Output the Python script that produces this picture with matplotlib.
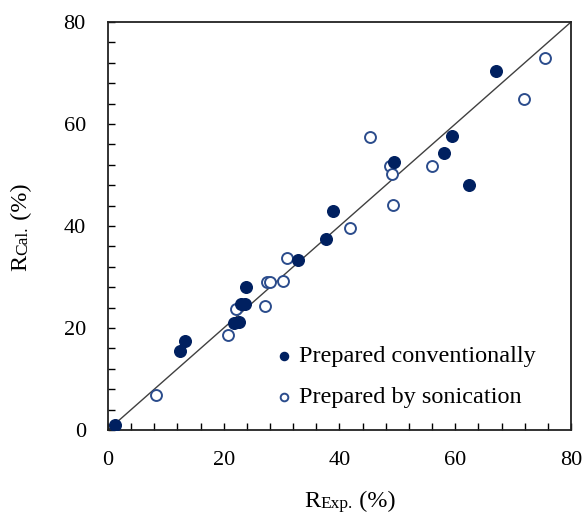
import matplotlib.pyplot as plt
from matplotlib.ticker import MultipleLocator

# conventionally prepared (filled)
conv_exp = [1.2, 12.4, 13.3, 21.8, 22.6, 23.0, 23.7, 23.8, 32.8, 37.7, 38.9,
            49.4, 58.0, 59.4, 62.4, 67.1]
conv_cal = [1.0, 15.4, 17.4, 20.9, 21.1, 24.7, 24.7, 28.1, 33.3, 37.5, 42.9,
            52.5, 54.3, 57.7, 48.0, 70.4]

# prepared by sonication (open)
son_exp = [8.3, 20.7, 22.2, 27.2, 27.5, 28.0, 30.2, 31.0, 41.9, 45.3, 48.8,
           49.1, 49.3, 56.0, 71.8, 75.5]
son_cal = [6.9, 18.6, 23.7, 24.3, 29.0, 29.0, 29.3, 33.7, 39.7, 57.5, 51.8,
           50.2, 44.2, 51.8, 65.0, 72.9]


def main():
    plt.rcParams['font.family'] = ['Liberation Serif', 'DejaVu Serif']
    fig = plt.figure(figsize=(5.86, 5.17), dpi=100)
    ax = fig.add_axes([0.1843, 0.1683, 0.7901, 0.7891])

    ax.plot([0, 80], [0, 80], color='#404040', lw=1, zorder=1)
    ax.scatter(conv_exp, conv_cal, s=70, color='#002060', edgecolor='#002060',
               lw=1, zorder=3, label='Prepared conventionally')
    ax.scatter(son_exp, son_cal, s=62, facecolor='white', edgecolor='#2B4C8C',
               lw=1.4, zorder=2, label='Prepared by sonication')

    ax.set_xlim(0, 80)
    ax.set_ylim(0, 80)
    ax.xaxis.set_major_locator(MultipleLocator(20))
    ax.yaxis.set_major_locator(MultipleLocator(20))
    ax.xaxis.set_minor_locator(MultipleLocator(4))
    ax.yaxis.set_minor_locator(MultipleLocator(4))
    ax.tick_params(which='both', direction='in', length=5, width=1,
                   labelsize=16, colors='black')
    ax.tick_params(axis='x', pad=15)
    ax.tick_params(axis='y', pad=16)
    for s in ax.spines.values():
        s.set_linewidth(1.3)
        s.set_color('#222222')

    # x label: R + small "Exp." + (%)
    t1 = ax.text(0.425, -0.2, 'R', transform=ax.transAxes, fontsize=17.5,
                 ha='left', va='bottom')
    t2 = ax.annotate('Exp.', xy=(1, 0), xycoords=t1, fontsize=12.5,
                     ha='left', va='bottom')
    ax.annotate(' (%)', xy=(1, 0), xycoords=t2, fontsize=17.5,
                ha='left', va='bottom')

    # y label, rotated
    y1 = ax.text(-0.165, 0.39, 'R', transform=ax.transAxes, fontsize=17.5,
                 rotation=90, ha='right', va='bottom')
    y2 = ax.annotate('Cal.', xy=(1, 1), xycoords=y1, fontsize=12.5,
                     rotation=90, ha='right', va='bottom')
    ax.annotate(' (%)', xy=(1, 1), xycoords=y2, fontsize=17.5,
                rotation=90, ha='right', va='bottom')

    ax.legend(loc='center left', bbox_to_anchor=(0.365, 0.13), frameon=False,
              fontsize=17.5, handlelength=0.6, handletextpad=0.3,
              labelspacing=0.78, borderpad=0, borderaxespad=0,
              markerscale=0.7)

    fig.savefig('out.png', dpi=100)


if __name__ == "__main__":
    main()
